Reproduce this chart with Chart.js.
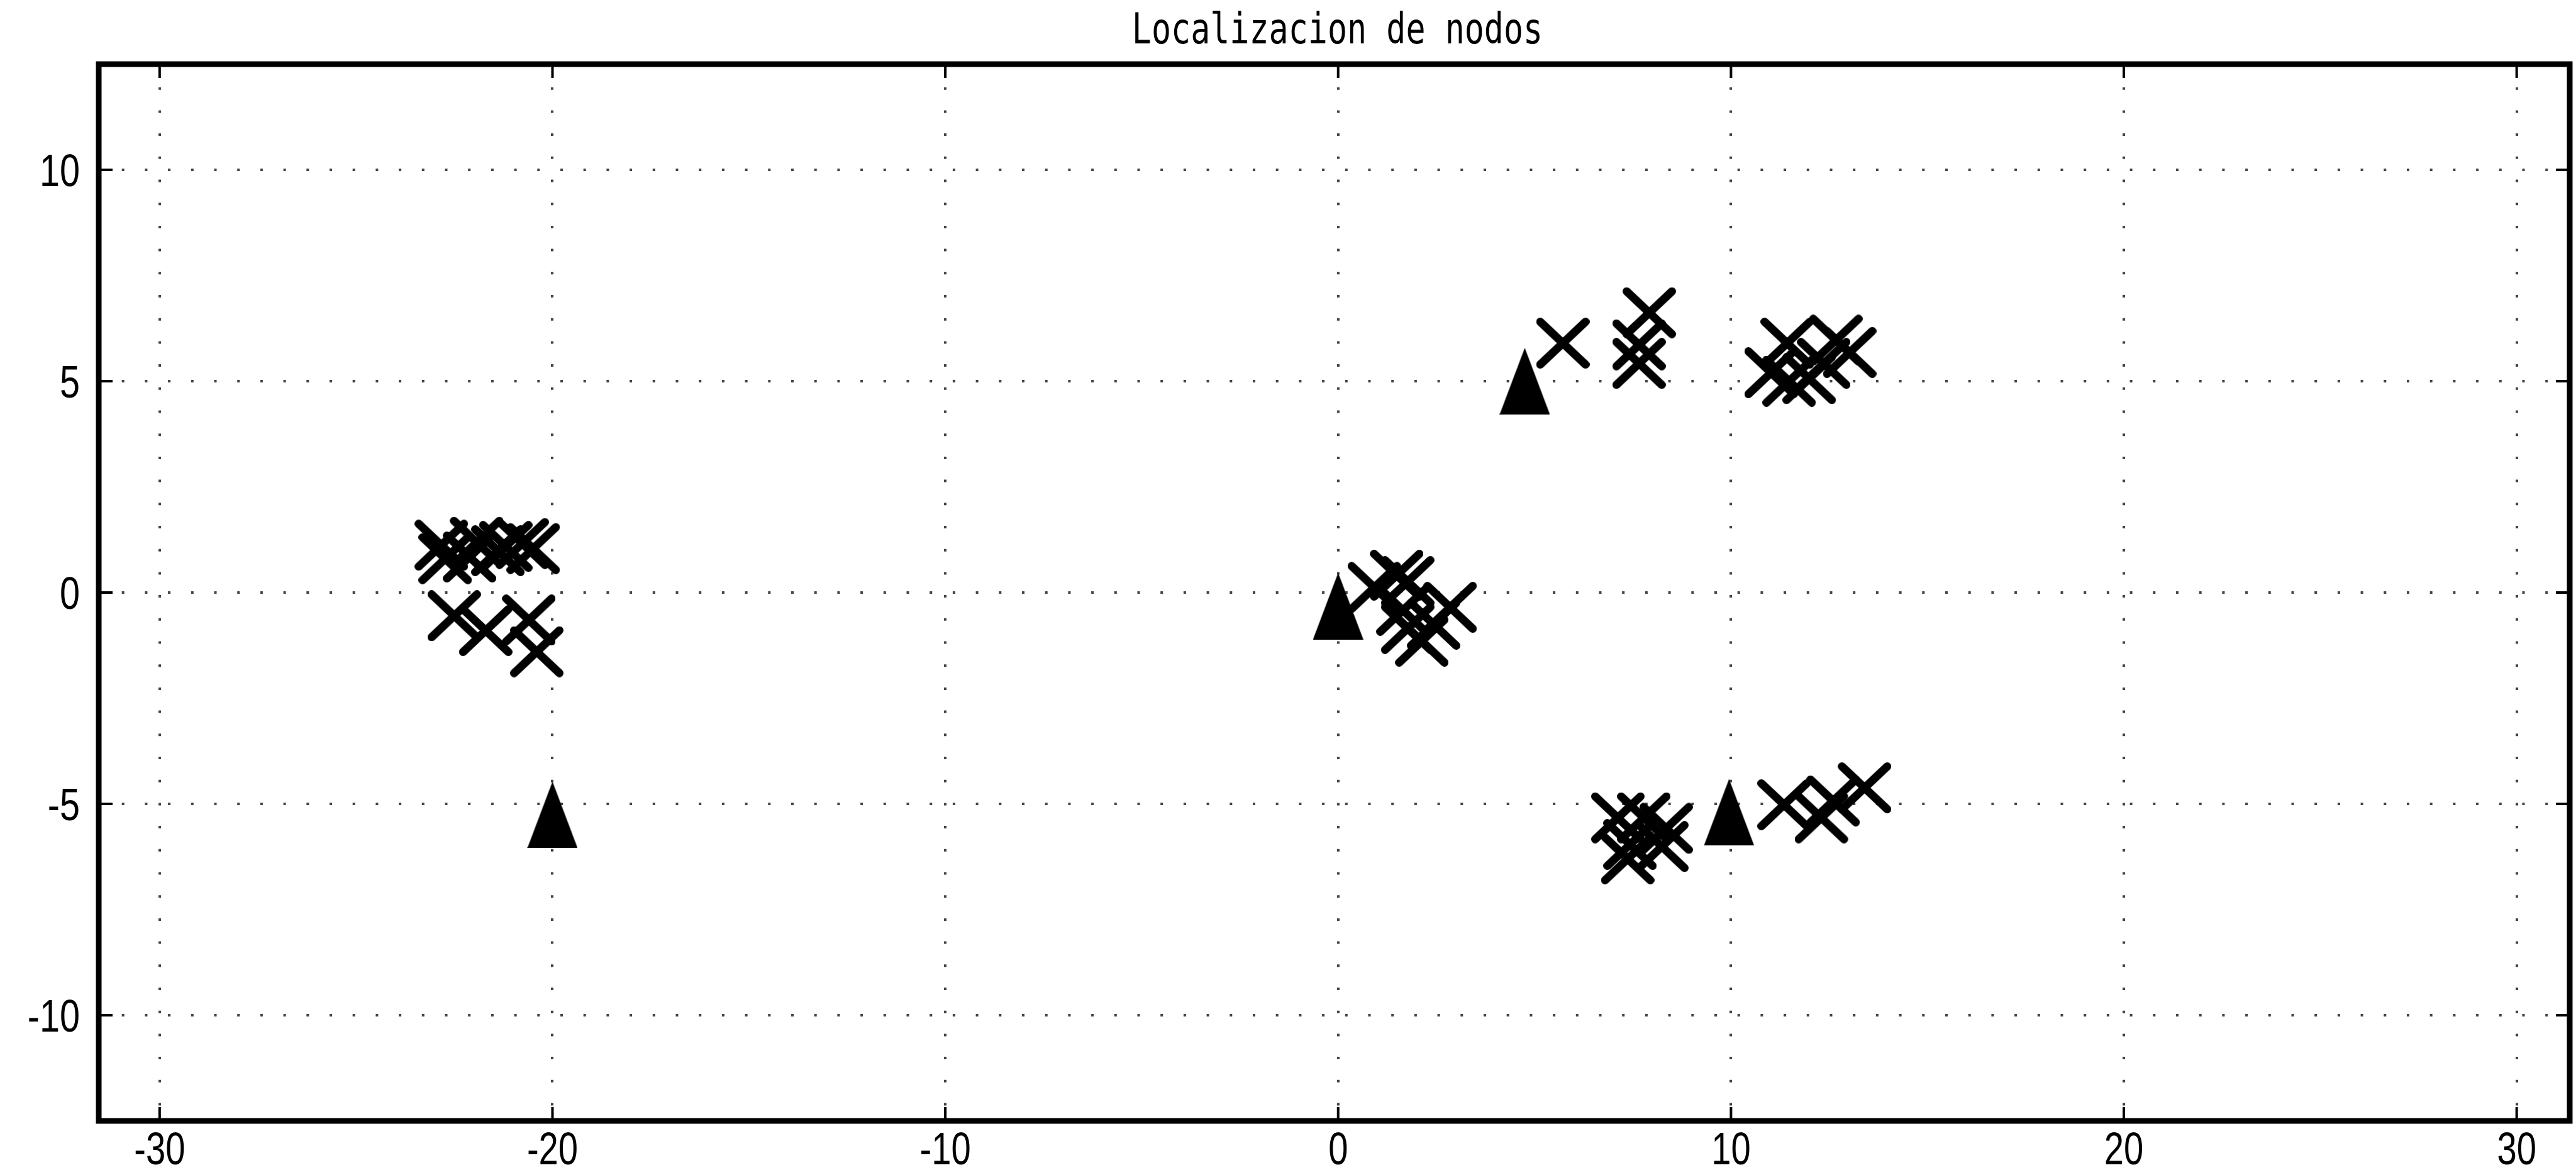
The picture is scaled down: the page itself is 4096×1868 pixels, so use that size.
<!DOCTYPE html>
<html>
<head>
<meta charset="utf-8">
<title>Localizacion de nodos</title>
<script src="https://cdn.jsdelivr.net/npm/chart.js@4.4.0/dist/chart.umd.min.js"></script>
<style>
  html, body { margin: 0; padding: 0; background: #fff; }
  canvas { display: block; }
</style>
</head>
<body>
<canvas id="nodosChart" width="4096" height="1868"></canvas>
<script>
const titleText = 'Localizacion de nodos';
const xTicks = [-30, -20, -10, 0, 10, 20, 30];
const yTicks = [-10, -5, 0, 5, 10];

// estimated node positions (drawn as x)
const nodeX = [
  -22.83, -22.73, -22.11, -21.93, -21.39, -21.19, -20.77, -20.49,
  -22.5, -21.7, -20.6, -20.4,
  0.92, 1.49, 1.77, 1.65, 1.77, 2.43, 2.85, 2.13,
  5.72, 7.92, 7.66, 7.66,
  11.43, 12.67, 13.02, 11.02, 11.48, 11.99, 12.36,
  7.12, 7.78, 8.35, 7.43, 8.24, 7.37,
  11.35, 12.3, 12.6, 13.4
];
const nodeY = [
  1.12, 0.8, 0.84, 1.19, 0.99, 1.09, 1.16, 1.04,
  -0.55, -0.9, -0.65, -1.4,
  0.12, 0.41, 0.26, -0.42, -0.85, -0.75, -0.35, -1.15,
  5.9, 6.62, 5.86, 5.42,
  5.9, 5.97, 5.68, 5.2, 5.0, 5.06, 5.42,
  -5.33, -5.33, -5.58, -5.96, -6.01, -6.3,
  -5.02, -5.33, -4.93, -4.62
];

// anchor nodes (drawn as filled triangles)
const anchorX = [-20, 0, 4.75, 9.95];
const anchorY = [-5.26, -0.32, 5.0, -5.2];

function crossMarker(w, h, lw) {
  const c = document.createElement('canvas');
  c.width = Math.ceil(w + lw);
  c.height = Math.ceil(h + lw);
  const g = c.getContext('2d');
  const p = lw / 2;
  g.strokeStyle = '#000';
  g.lineWidth = lw;
  g.lineCap = 'round';
  g.beginPath();
  g.moveTo(p, p);
  g.lineTo(p + w, p + h);
  g.moveTo(p + w, p);
  g.lineTo(p, p + h);
  g.stroke();
  return c;
}

function triangleMarker(w, h) {
  const c = document.createElement('canvas');
  c.width = w;
  c.height = h;
  const g = c.getContext('2d');
  g.fillStyle = '#000';
  g.beginPath();
  g.moveTo(w / 2, 0);
  g.lineTo(w, h);
  g.lineTo(0, h);
  g.closePath();
  g.fill();
  return c;
}

// text is squeezed horizontally to get the narrow look of the labels
function narrowText(ctx, text, x, y, align, sx) {
  ctx.save();
  ctx.translate(x, y);
  ctx.scale(sx, 1);
  ctx.textAlign = align;
  ctx.textBaseline = 'alphabetic';
  ctx.fillText(text, 0, 0);
  ctx.restore();
}

const framePlugin = {
  id: 'frame',
  afterDraw(chart) {
    const { ctx, chartArea: a, scales: { x, y } } = chart;
    ctx.save();
    ctx.strokeStyle = '#000';
    ctx.lineWidth = 9;
    ctx.strokeRect(a.left, a.top, a.right - a.left, a.bottom - a.top);

    // inward tick marks on all four sides
    ctx.lineWidth = 4;
    ctx.beginPath();
    xTicks.forEach(v => {
      const px = x.getPixelForValue(v);
      ctx.moveTo(px, a.top);
      ctx.lineTo(px, a.top + 22);
      ctx.moveTo(px, a.bottom);
      ctx.lineTo(px, a.bottom - 22);
    });
    yTicks.forEach(v => {
      const py = y.getPixelForValue(v);
      ctx.moveTo(a.left, py);
      ctx.lineTo(a.left + 22, py);
      ctx.moveTo(a.right, py);
      ctx.lineTo(a.right - 22, py);
    });
    ctx.stroke();

    ctx.fillStyle = '#000';
    ctx.font = '72px "Liberation Sans"';
    xTicks.forEach(v => narrowText(ctx, String(v), x.getPixelForValue(v), a.bottom + 69, 'center', 0.78));
    yTicks.forEach(v => narrowText(ctx, String(v), a.left - 30, y.getPixelForValue(v) + 26, 'right', 0.8));

    ctx.font = '68px "DejaVu Sans Mono"';
    narrowText(ctx, titleText, (a.left + a.right) / 2 + 5, 69, 'center', 0.76);
    ctx.restore();
  }
};

const gridStyle = { color: '#444', lineWidth: 4, drawTicks: false };
const borderStyle = { display: false, dash: [4, 32.7] };

const nodosChart = new Chart(document.getElementById('nodosChart').getContext('2d'), {
  type: 'scatter',
  data: {
    datasets: [
      {
        label: 'Nodos',
        data: nodeX.map((v, i) => ({ x: v, y: nodeY[i] })),
        pointStyle: crossMarker(72, 68, 13),
        pointRadius: 10,
        borderWidth: 0
      },
      {
        label: 'Anclas',
        data: anchorX.map((v, i) => ({ x: v, y: anchorY[i] })),
        pointStyle: triangleMarker(80, 106),
        pointRadius: 10,
        borderWidth: 0
      }
    ]
  },
  options: {
    responsive: false,
    animation: false,
    events: [],
    layout: { padding: { left: 157, right: 4, top: 102, bottom: 86 } },
    plugins: {
      legend: { display: false },
      tooltip: { enabled: false },
      title: { display: false }
    },
    scales: {
      x: {
        type: 'linear',
        min: -31.55,
        max: 31.35,
        afterBuildTicks: s => { s.ticks = xTicks.map(v => ({ value: v })); },
        ticks: { display: false },
        grid: gridStyle,
        border: borderStyle
      },
      y: {
        type: 'linear',
        min: -12.5,
        max: 12.5,
        afterBuildTicks: s => { s.ticks = yTicks.map(v => ({ value: v })); },
        ticks: { display: false },
        grid: gridStyle,
        border: borderStyle
      }
    }
  },
  plugins: [framePlugin]
});
</script>
</body>
</html>
